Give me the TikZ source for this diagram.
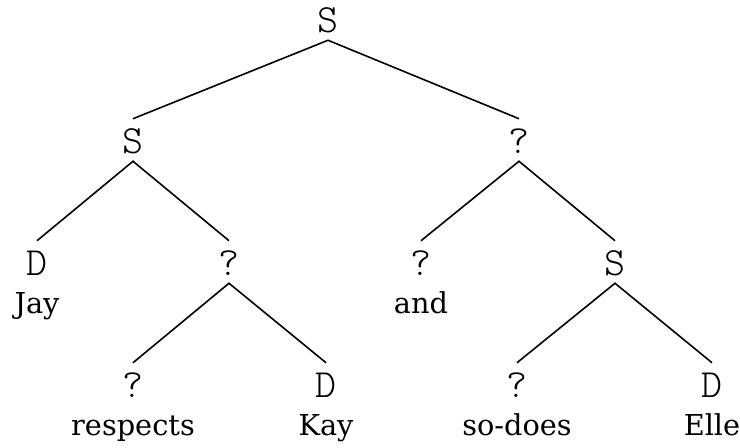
\documentclass[tikz,border=0pt]{standalone}
\usepackage{fontspec}
\newfontfamily\wordfont{DejaVu Serif}
\newfontfamily\catfont{Latin Modern Mono Light}
\begin{document}
\begin{tikzpicture}[x=0.75pt,y=-0.75pt,
  cat/.style={anchor=base,inner xsep=2pt,inner ysep=6pt,text height=19.5pt,text depth=0pt,
    font=\fontsize{30}{34}\selectfont\catfont},
  word/.style={anchor=base,inner sep=0pt,font=\fontsize{21.6}{25}\selectfont\wordfont},
  edge/.style={line width=1.2pt}]
\useasboundingbox (0,0) rectangle (740,447);
% categories
\node[cat] (s0) at (328,32) {S};
\node[cat] (s1) at (133,153) {S};
\node[cat] (q1) at (519,153) {?};
\node[cat] (d1) at (37,275) {D};
\node[cat] (q2) at (229,275) {?};
\node[cat] (q3) at (421,275) {?};
\node[cat] (s2) at (615,275) {S};
\node[cat] (q4) at (133,397) {?};
\node[cat] (d2) at (326,397) {D};
\node[cat] (q5) at (517,397) {?};
\node[cat] (d3) at (712,397) {D};
% words
\node[word] (w1) at (37,313) {Jay};
\node[word] (w2) at (421,313) {and};
\node[word] (w3) at (133,435) {respects};
\node[word] (w4) at (326,435) {Kay};
\node[word] (w5) at (517,435) {so-does};
\node[word] (w6) at (712,435) {Elle};
% edges
\draw[edge] (s1.north) -- (s0.south) -- (q1.north);
\draw[edge] (d1.north) -- (s1.south) -- (q2.north);
\draw[edge] (q3.north) -- (q1.south) -- (s2.north);
\draw[edge] (q4.north) -- (q2.south) -- (d2.north);
\draw[edge] (q5.north) -- (s2.south) -- (d3.north);
\end{tikzpicture}
\end{document}
